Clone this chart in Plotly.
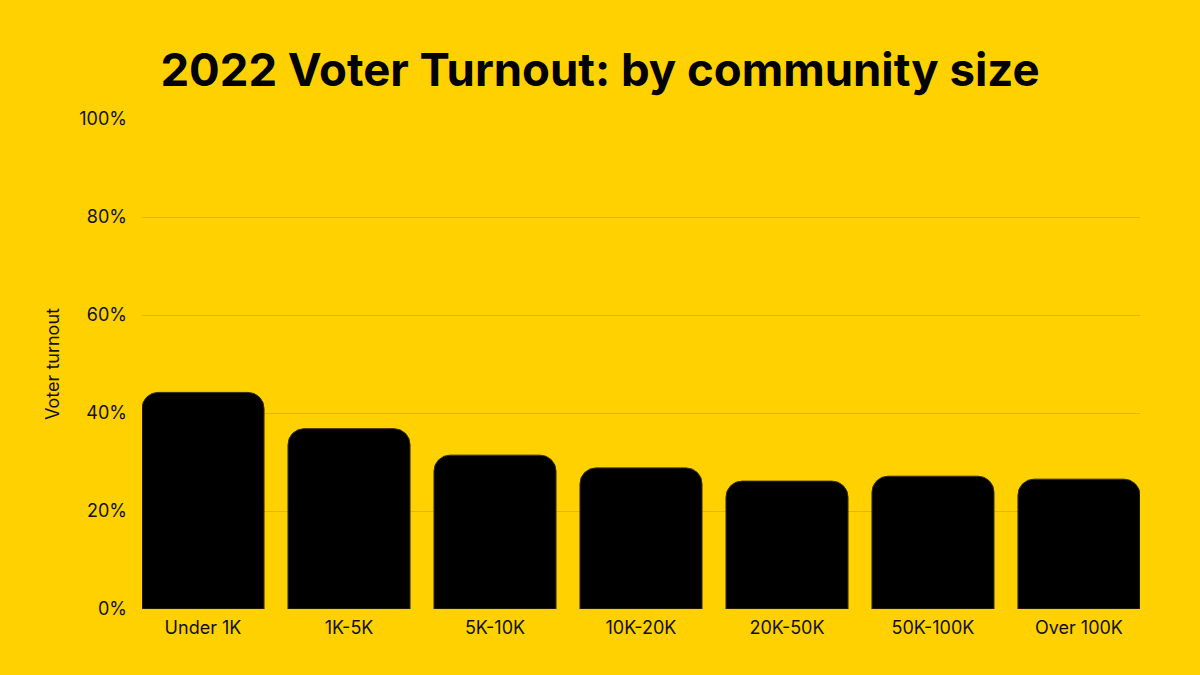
import plotly.graph_objects as go

# Voter turnout by community size, 2022
categories = ["Under 1K", "1K-5K", "5K-10K", "10K-20K", "20K-50K", "50K-100K", "Over 100K"]
turnout = [0.442, 0.368, 0.314, 0.288, 0.261, 0.271, 0.265]

BG = "#FFD100"
FONT = "Inter"

fig = go.Figure()
fig.add_trace(go.Bar(
    x=categories,
    y=turnout,
    marker=dict(color="#000000", line=dict(color="#3a3000", width=1), cornerradius=16),
    hovertemplate="%{x}: %{y:.0%}<extra></extra>",
))

fig.update_layout(
    width=1200,
    height=675,
    paper_bgcolor=BG,
    plot_bgcolor=BG,
    font=dict(family=FONT, color="#111111", size=18),
    title=dict(
        text="<b>2022 Voter Turnout: by community size</b>",
        x=0.5, xanchor="center",
        y=0.896, yanchor="middle",
        font=dict(family=FONT, size=45.5, color="#000000"),
    ),
    bargap=0.164,
    margin=dict(l=142, r=60, t=119, b=66),
    showlegend=False,
)

fig.update_xaxes(
    range=[-0.418, 6.418],
    showgrid=False,
    showline=False,
    ticks="",
    ticklabelstandoff=6,
    tickfont=dict(size=18),
)
fig.update_yaxes(
    range=[0, 1],
    tickvals=[0, 0.2, 0.4, 0.6, 0.8, 1.0],
    tickformat=".0%",
    gridcolor="#E3B800",
    gridwidth=1,
    zeroline=False,
    showline=False,
    ticks="",
    ticklabelstandoff=14,
    tickfont=dict(size=18),
    title=dict(text="Voter turnout", font=dict(size=18), standoff=14),
)

# drop the page's default body margin so the figure sits flush in the window
fig.write_html(
    "out.html",
    config={"displayModeBar": False},
    post_script="document.body.style.margin='0';",
)
